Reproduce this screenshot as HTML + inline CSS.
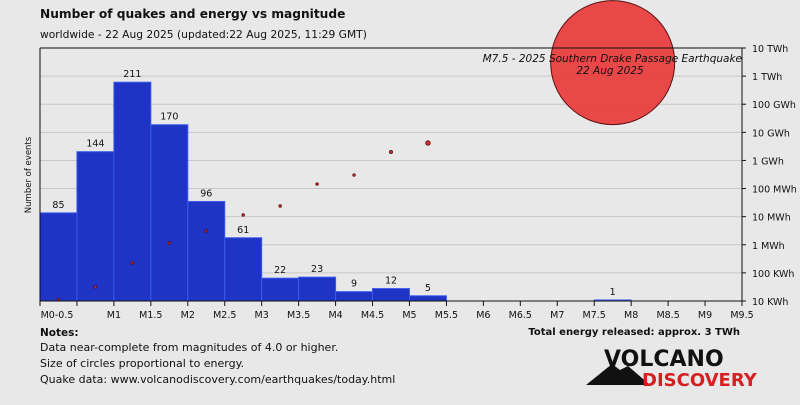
<!DOCTYPE html>
<html><head><meta charset="utf-8"><style>
body{margin:0;background:#e8e8e8;width:800px;height:400px;overflow:hidden;font-family:"Liberation Sans","DejaVu Sans",sans-serif}
svg text{font-family:"DejaVu Sans","Liberation Sans",sans-serif}
</style></head><body>
<svg id="c" width="800" height="400">
<text x="40" y="18" font-size="12.2" font-weight="bold" fill="#111">Number of quakes and energy vs magnitude</text>
<text x="40" y="38" font-size="10.7" fill="#111">worldwide - 22 Aug 2025 (updated:22 Aug 2025, 11:29 GMT)</text>
<g id="grid"></g><g id="bars"></g><g id="dots"></g><g id="axes"></g>
<text transform="translate(31,175) rotate(-90)" text-anchor="middle" font-size="8.5" fill="#111">Number of events</text>
<text x="40" y="336" font-size="10.5" font-weight="bold" fill="#111">Notes:</text>
<text x="40" y="351" font-size="11" fill="#111">Data near-complete from magnitudes of 4.0 or higher.</text>
<text x="40" y="367" font-size="11" fill="#111">Size of circles proportional to energy.</text>
<text x="40" y="383" font-size="11" fill="#111">Quake data: www.volcanodiscovery.com/earthquakes/today.html</text>
<text x="740" y="335" text-anchor="end" font-size="10" font-weight="bold" fill="#111">Total energy released: approx. 3 TWh</text>
<g>
<polygon points="586,385 612,364 620,370 628,366 650,385" fill="#111"/>
<text x="604" y="366" font-size="22" font-weight="bold" fill="#111" font-family="Liberation Sans">VOLCANO</text>
<text x="642" y="386" font-size="18" font-weight="bold" fill="#d42020" font-family="Liberation Sans">DISCOVERY</text>
</g>
</svg>
<script>
const categories=["M0-0.5","","M1","M1.5","M2","M2.5","M3","M3.5","M4","M4.5","M5","M5.5","M6","M6.5","M7","M7.5","M8","M8.5","M9","M9.5"];
const counts=[85,144,211,170,96,61,22,23,9,12,5,0,0,0,0,1,0,0,0];
const energyLog=[1.04,1.5,2.35,3.06,3.49,4.06,4.38,5.16,5.48,6.3,6.62,null,null,null,null,9.48,null,null,null];
const energyTicks=["10 KWh","100 KWh","1 MWh","10 MWh","100 MWh","1 GWh","10 GWh","100 GWh","1 TWh","10 TWh"];
const NS="http://www.w3.org/2000/svg";
const L=40,R=742,T=48,B=301,bw=(R-L)/19;
const x=i=>L+i*bw;
const yc=v=>B-v*(B-T)/244;
const ye=lg=>B-(lg-1)*(B-T)/9;
function mk(p,t,a){const e=document.createElementNS(NS,t);for(const k in a)e.setAttribute(k,a[k]);document.getElementById(p).appendChild(e);return e;}
energyTicks.forEach((t,i)=>{
 const l=mk('grid','line',{x1:L,x2:R,y1:ye(i+1),y2:ye(i+1),stroke:'#c8c8c8','stroke-width':1});
 
 
 mk('axes','line',{x1:R,x2:R+4,y1:ye(i+1),y2:ye(i+1),stroke:'#111'});
 const tx=mk('axes','text',{x:R+10,y:ye(i+1)+4,'font-size':9.5,fill:'#111'});tx.textContent=t;
 
 
});
counts.forEach((c,i)=>{
 if(c<=0)return;
 const r=mk('bars','rect',{x:x(i),y:yc(c),width:bw,height:B-yc(c),fill:'#1f33c4',stroke:'#3a5af0','stroke-width':1});
 
 
 const t=mk('bars','text',{x:x(i)+bw/2,y:yc(c)-5,'text-anchor':'middle','font-size':9.5,fill:'#111'});t.textContent=c;
 
 
});
const maxE=9.48;
energyLog.forEach((e,i)=>{
 if(e==null)return;
 const rr=Math.max(1.3,62*Math.sqrt(Math.pow(10,e-maxE)));
 const d=mk('dots','circle',{cx:x(i)+bw/2,cy:ye(e),r:rr,fill:rr>10?'rgba(232,58,58,0.92)':'#d03030',stroke:'#5a1010','stroke-width':rr>10?1:0.8});
 
 
});
mk('axes','line',{x1:L,x2:R,y1:B,y2:B,stroke:'#111'});
mk('axes','line',{x1:L,x2:L,y1:T,y2:B,stroke:'#111'});
mk('axes','line',{x1:R,x2:R,y1:T,y2:B,stroke:'#111'});
mk('axes','line',{x1:L,x2:R,y1:T,y2:T,stroke:'#111'});
categories.forEach((c,i)=>{
 mk('axes','line',{x1:x(i),x2:x(i),y1:B,y2:B+5,stroke:'#111'});
 if(!c)return;
 const t=mk('axes','text',{x:i==0?x(i)+17:x(i),y:B+17,'text-anchor':'middle','font-size':9.5,fill:'#111'});t.textContent=c;
 
 
});
const a1=mk('axes','text',{x:R,y:62,'text-anchor':'end','font-size':10.5,'font-style':'italic',fill:'#111'});a1.textContent='M7.5 - 2025 Southern Drake Passage Earthquake';


const a2=mk('axes','text',{x:610,y:74,'text-anchor':'middle','font-size':10.5,'font-style':'italic',fill:'#111'});a2.textContent='22 Aug 2025';


</script>
</body></html>
